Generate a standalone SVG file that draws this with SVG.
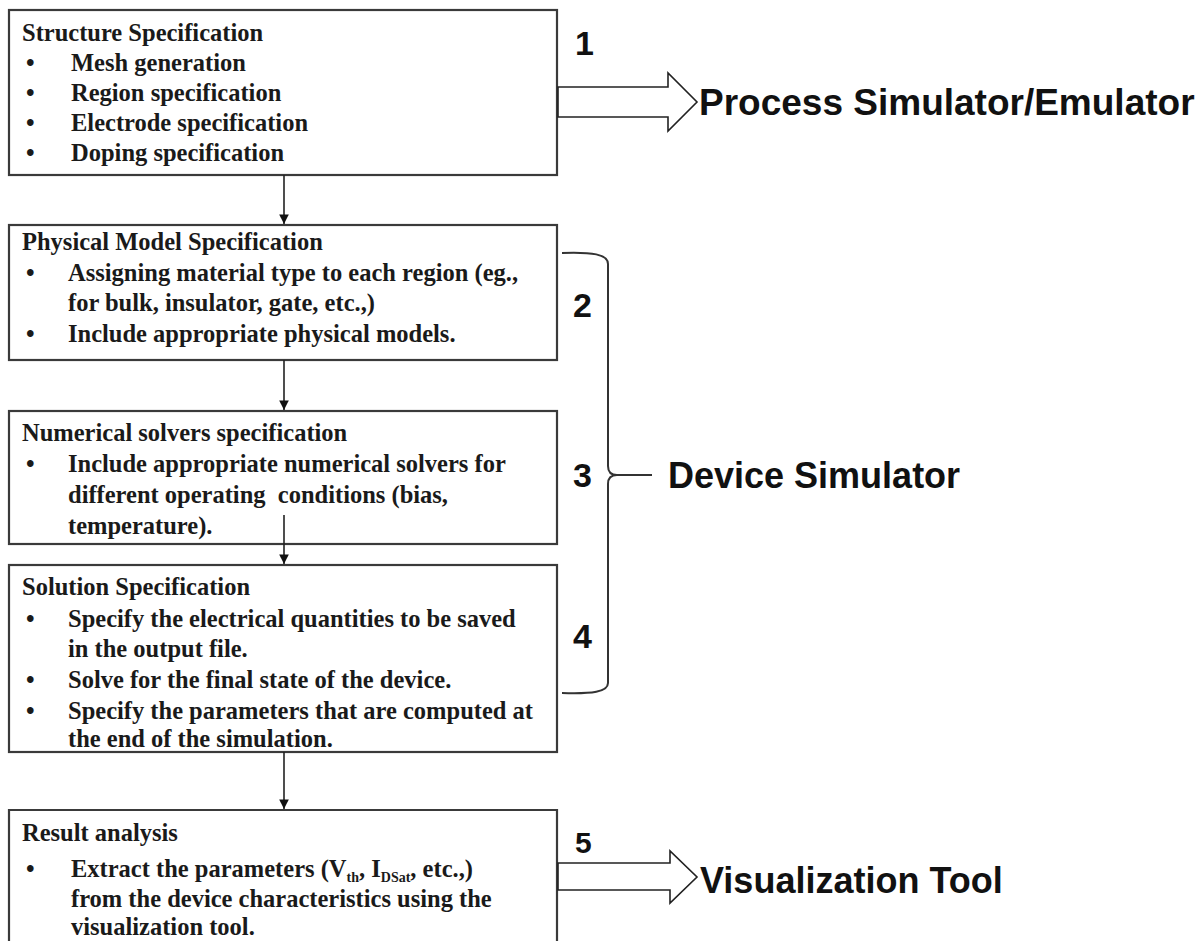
<svg xmlns="http://www.w3.org/2000/svg" width="1203" height="941" viewBox="0 0 1203 941">
  <style>
    .box { fill: #ffffff; stroke: #3a3a3a; stroke-width: 2.2; }
    .hd { font-family: "Liberation Serif", "Times New Roman", serif; font-weight: bold; font-size: 24.5px; fill: #1a1a1a; }
    .it { font-family: "Liberation Serif", "Times New Roman", serif; font-weight: bold; font-size: 24.5px; fill: #1a1a1a; }
    .num { font-family: "Liberation Sans", Arial, sans-serif; font-weight: bold; font-size: 34px; fill: #111111; }
    .big { font-family: "Liberation Sans", Arial, sans-serif; font-weight: bold; font-size: 36px; fill: #111111; }
    .conn { stroke: #222222; stroke-width: 1.6; fill: none; }
    .hollow { fill: #ffffff; stroke: #222222; stroke-width: 1.6; stroke-linejoin: miter; }
    .brace { fill: none; stroke: #333333; stroke-width: 2; }
  </style>
  <defs>
    <marker id="tri" viewBox="0 0 10 10" refX="10" refY="5" markerWidth="6" markerHeight="6" orient="auto" markerUnits="strokeWidth">
      <path d="M0,0 L10,5 L0,10 z" fill="#111111"/>
    </marker>
  </defs>

  <rect width="1203" height="941" fill="#ffffff"/>

  <g id="step1">
    <rect class="box" x="9" y="10" width="548" height="165"/>
    <text class="hd" x="22" y="41">Structure Specification</text>
    <text class="it" x="26" y="71">•</text><text class="it" x="71" y="71">Mesh generation</text>
    <text class="it" x="26" y="101">•</text><text class="it" x="71" y="101">Region specification</text>
    <text class="it" x="26" y="131">•</text><text class="it" x="71" y="131">Electrode specification</text>
    <text class="it" x="26" y="161">•</text><text class="it" x="71" y="161">Doping specification</text>
    <text class="num" x="575" y="55">1</text>
  </g>

  <g id="step2">
    <rect class="box" x="9" y="225" width="548" height="135"/>
    <text class="hd" x="22" y="250">Physical Model Specification</text>
    <text class="it" x="26" y="281">•</text><text class="it" x="68" y="281">Assigning material type to each region (eg.,</text>
    <text class="it" x="68" y="311">for bulk, insulator, gate, etc.,)</text>
    <text class="it" x="26" y="342">•</text><text class="it" x="68" y="342">Include appropriate physical models.</text>
    <text class="num" x="573" y="317">2</text>
  </g>

  <g id="step3">
    <rect class="box" x="9" y="411" width="548" height="133"/>
    <text class="hd" x="22" y="441">Numerical solvers specification</text>
    <text class="it" x="26" y="472">•</text><text class="it" x="68" y="472">Include appropriate numerical solvers for</text>
    <text class="it" x="68" y="503" xml:space="preserve">different operating  conditions (bias,</text>
    <text class="it" x="68" y="534">temperature).</text>
    <text class="num" x="573" y="487">3</text>
  </g>

  <g id="step4">
    <rect class="box" x="9" y="565" width="548" height="187"/>
    <text class="hd" x="22" y="595">Solution Specification</text>
    <text class="it" x="26" y="627">•</text><text class="it" x="68" y="627">Specify the electrical quantities to be saved</text>
    <text class="it" x="68" y="657">in the output file.</text>
    <text class="it" x="26" y="688">•</text><text class="it" x="68" y="688">Solve for the final state of the device.</text>
    <text class="it" x="26" y="719">•</text><text class="it" x="68" y="719">Specify the parameters that are computed at</text>
    <text class="it" x="68" y="747">the end of the simulation.</text>
    <text class="num" x="573" y="648">4</text>
  </g>

  <g id="step5">
    <path class="box" d="M9,945 L9,810 L557,810 L557,945"/>
    <text class="hd" x="22" y="841">Result analysis</text>
    <text class="it" x="26" y="877">•</text>
    <text class="it" x="71" y="877">Extract the parameters (V<tspan font-size="14" dy="5">th</tspan><tspan dy="-5">, I</tspan><tspan font-size="14" dy="5">DSat</tspan><tspan dy="-5">, etc.,)</tspan></text>
    <text class="it" x="71" y="907">from the device characteristics using the</text>
    <text class="it" x="71" y="935">visualization tool.</text>
    <text class="num" x="575" y="853" style="font-size:30px">5</text>
  </g>

  <!-- connectors between the steps, drawn over the boxes -->
  <g id="connectors">
    <line class="conn" x1="284" y1="175" x2="284" y2="224" marker-end="url(#tri)"/>
    <line class="conn" x1="284" y1="360" x2="284" y2="410" marker-end="url(#tri)"/>
    <line class="conn" x1="284" y1="515" x2="284" y2="564" marker-end="url(#tri)"/>
    <line class="conn" x1="284" y1="752" x2="284" y2="809" marker-end="url(#tri)"/>
    <!-- hollow block arrows to the external tools -->
    <polygon class="hollow" points="558,87 668,87 668,73 697,102 668,131 668,117 558,117"/>
    <polygon class="hollow" points="558,863 670,863 670,851 697,877 670,903 670,890 558,890"/>
    <!-- brace grouping steps 2-4 -->
    <path class="brace" d="M562,253 C592,252 608,254 608,264 L608,466 Q608,475 617,475 Q608,475 608,484 L608,683 C608,692 592,694 562,693"/>
    <line class="brace" x1="617" y1="475" x2="652" y2="475"/>
  </g>

  <g id="tool-process">
    <text class="big" x="699" y="115" style="font-size:37px">Process Simulator/Emulator</text>
  </g>
  <g id="tool-device">
    <text class="big" x="668" y="488">Device Simulator</text>
  </g>
  <g id="tool-visual">
    <text class="big" x="700" y="893">Visualization Tool</text>
  </g>
</svg>
